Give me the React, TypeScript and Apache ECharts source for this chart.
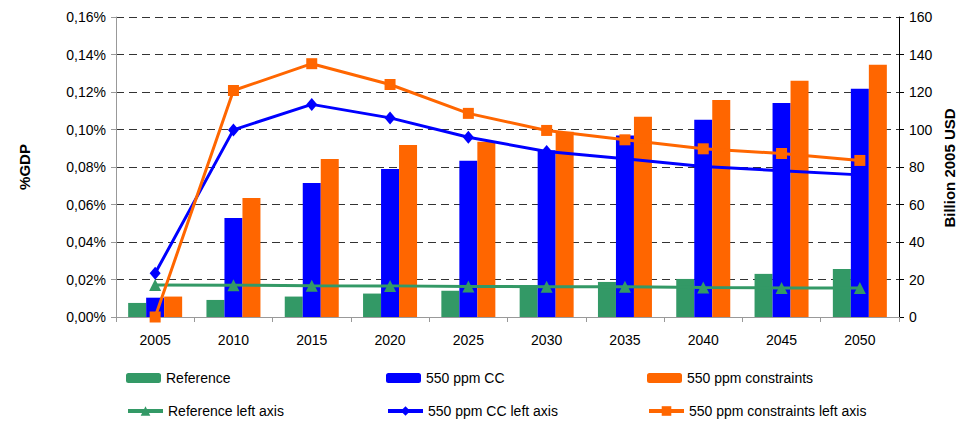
import React, { useEffect, useRef } from "react";
import * as echarts from "echarts";

const years = ["2005", "2010", "2015", "2020", "2025", "2030", "2035", "2040", "2045", "2050"];
// Bars: Billion 2005 USD (right axis)
const refBars = [7.5, 9.1, 10.9, 12.5, 14, 17, 18.7, 20.3, 23, 25.6];
const ccBars = [10.3, 52.8, 71.5, 79, 83.3, 89, 96.8, 105.2, 114.2, 121.7];
const consBars = [10.9, 63.5, 84.3, 91.8, 93.5, 98.8, 106.8, 115.8, 126, 134.5];
// Lines: %GDP (left axis), in percent
const refLine = [0.0171, 0.0170, 0.0167, 0.0166, 0.0163, 0.0162, 0.0161, 0.0157, 0.0155, 0.0155];
const ccLine = [0.0233, 0.0998, 0.1134, 0.1062, 0.0959, 0.0883, 0.0844, 0.0803, 0.078, 0.0758];
const consLine = [0.0, 0.1208, 0.1351, 0.124, 0.1086, 0.0995, 0.0945, 0.0897, 0.0872, 0.0835];

const GREEN = "#339966";
const BLUE = "#0000FF";
const ORANGE = "#FF6600";
const FONT = "'Liberation Sans', Arial, sans-serif";

export default function App() {
  const ref = useRef<HTMLDivElement>(null);
  useEffect(() => {
    if (!ref.current) return;
    const chart = echarts.init(ref.current, undefined, { renderer: "svg" });
    const legendItem = (name: string, left: number, top: number, isLine: boolean) => ({
      data: [name],
      left,
      top,
      itemWidth: 35,
      itemHeight: isLine ? 12 : 10,
      padding: 0,
      selectedMode: false,
      lineStyle: isLine ? { width: 4 } : undefined,
      textStyle: { fontFamily: FONT, fontSize: 14, color: "#000" },
    });
    chart.setOption({
      animation: false,
      textStyle: { fontFamily: FONT },
      grid: { left: 116, right: 60, top: 17, bottom: 104, containLabel: false, outerBoundsMode: "none" },
      legend: [
        legendItem("Reference", 126, 371, false),
        legendItem("550 ppm CC", 386, 371, false),
        legendItem("550 ppm constraints", 647, 371, false),
        legendItem("Reference left axis", 126, 404, true),
        legendItem("550 ppm CC left axis", 386, 404, true),
        legendItem("550 ppm constraints left axis", 647, 404, true),
      ],
      graphic: [
        {
          type: "text",
          x: 949,
          y: 168,
          rotation: Math.PI / 2,
          style: {
            text: "Billion 2005 USD",
            fontFamily: FONT,
            fontSize: 15,
            fontWeight: "bold",
            fill: "#000",
            align: "center",
            verticalAlign: "middle",
          },
        },
      ],
      xAxis: {
        type: "category",
        data: years,
        axisLine: { lineStyle: { color: "#999", width: 1 } },
        axisTick: { show: true, length: 5, lineStyle: { color: "#999" } },
        axisLabel: { fontFamily: FONT, fontSize: 14, color: "#000", margin: 16 },
      },
      yAxis: [
        {
          type: "value",
          min: 0,
          max: 0.16,
          interval: 0.02,
          position: "left",
          name: "%GDP",
          nameLocation: "middle",
          nameRotate: 90,
          nameGap: 84,
          nameTextStyle: { fontFamily: FONT, fontSize: 15, fontWeight: "bold", color: "#000" },
          axisLine: { show: true, lineStyle: { color: "#999" } },
          axisTick: { show: true, length: 5, lineStyle: { color: "#999" } },
          axisLabel: {
            fontFamily: FONT,
            fontSize: 14,
            color: "#000",
            margin: 10,
            formatter: (v: number) => v.toFixed(2).replace(".", ",") + "%",
          },
          splitLine: { show: true, lineStyle: { color: "#333", type: [8, 5], width: 1 } },
        },
        {
          type: "value",
          min: 0,
          max: 160,
          interval: 20,
          position: "right",
          axisLine: { show: true, lineStyle: { color: "#000" } },
          axisTick: { show: true, length: 5, lineStyle: { color: "#000" } },
          axisLabel: { fontFamily: FONT, fontSize: 14, color: "#000", margin: 10 },
          splitLine: { show: false },
        },
      ],
      series: [
        { name: "Reference", type: "bar", yAxisIndex: 1, data: refBars, barWidth: 18, barGap: "0%", itemStyle: { color: GREEN } },
        { name: "550 ppm CC", type: "bar", yAxisIndex: 1, data: ccBars, barWidth: 18, barGap: "0%", itemStyle: { color: BLUE } },
        { name: "550 ppm constraints", type: "bar", yAxisIndex: 1, data: consBars, barWidth: 18, barGap: "0%", itemStyle: { color: ORANGE } },
        {
          name: "Reference left axis", type: "line", yAxisIndex: 0, data: refLine,
          symbol: "triangle", symbolSize: 12, z: 5,
          lineStyle: { color: GREEN, width: 3 }, itemStyle: { color: GREEN },
        },
        {
          name: "550 ppm CC left axis", type: "line", yAxisIndex: 0, data: ccLine,
          symbol: "diamond", symbolSize: [11, 13], z: 6,
          lineStyle: { color: BLUE, width: 3 }, itemStyle: { color: BLUE },
        },
        {
          name: "550 ppm constraints left axis", type: "line", yAxisIndex: 0, data: consLine,
          symbol: "rect", symbolSize: 11, z: 7,
          lineStyle: { color: ORANGE, width: 3 }, itemStyle: { color: ORANGE },
        },
      ],
    });
    return () => chart.dispose();
  }, []);
  return <div ref={ref} style={{ width: 959, height: 421, position: "absolute", left: 0, top: 0 }} />;
}
